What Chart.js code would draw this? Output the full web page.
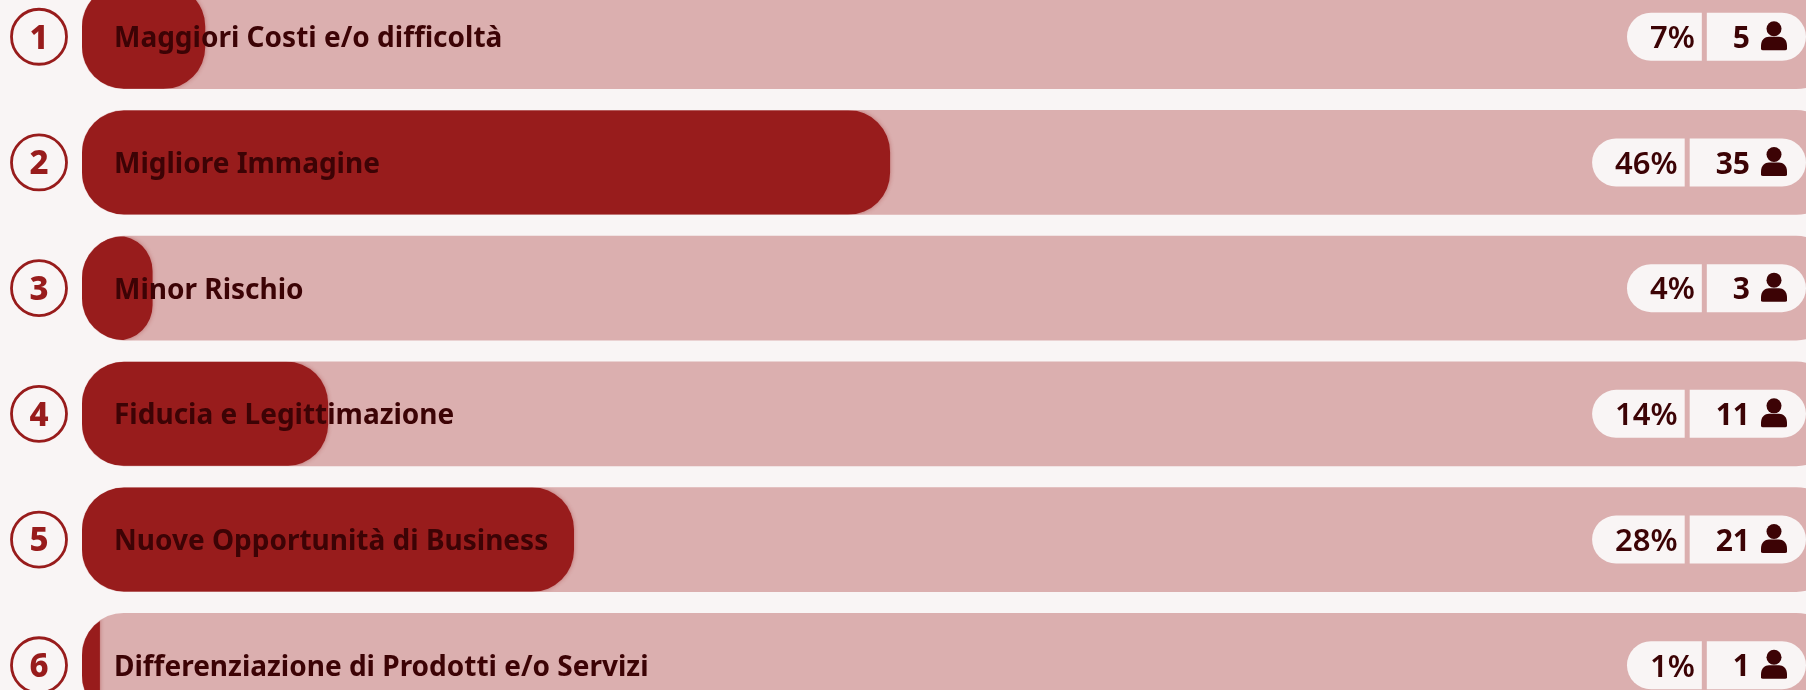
<!DOCTYPE html>
<html><head><meta charset="utf-8">
<style>html,body{margin:0;padding:0;background:#f9f5f5;overflow:hidden}canvas{display:block}</style>
<script src="https://cdn.jsdelivr.net/npm/chart.js@4"></script>
</head><body><canvas id="c" width="1806" height="690"></canvas>
<script>
const categories=["Maggiori Costi e/o difficoltà","Migliore Immagine","Minor Rischio","Fiducia e Legittimazione","Nuove Opportunità di Business","Differenziazione di Prodotti e/o Servizi"];
const percentages=[7,46,4,14,28,1];
const counts=[5,35,3,11,21,1];
const trackValues=[100,100,100,100,100,100];
const TXT='#3c0305',RED='#981c1c',PILL='#f9f5f5';
const FONT='"Noto Sans", sans-serif';
const R=42;
function rr(ctx,x,y,w,h,tl,tr,br,bl){ctx.beginPath();ctx.roundRect(x,y,w,h,[tl,tr,br,bl]);}
const overlay={id:'overlay',
 beforeDatasetDraw(chart,args){
  if(args.index!==0)return;
  const ctx=chart.ctx,tr=chart.getDatasetMeta(1).data;
  ctx.save();
  ctx.beginPath();
  tr.forEach(b=>{const p=b.getProps(['x','y','base','height']);ctx.roundRect(p.base,p.y-p.height/2,p.x-p.base,p.height,R);});
  ctx.clip();
  ctx.shadowColor='rgba(150,28,28,.45)';ctx.shadowBlur=4;
 },
 afterDatasetDraw(chart,args){if(args.index===0)chart.ctx.restore();},
 afterDraw(chart){
  const ctx=chart.ctx,ys=chart.scales.y,right=chart.width;
  ctx.save();
  ctx.textBaseline='middle';
  categories.forEach((label,i)=>{
   const y=ys.getPixelForValue(i),ty=y+2.5;
   ctx.beginPath();ctx.arc(39,y,27.5,0,Math.PI*2);ctx.lineWidth=2.8;ctx.strokeStyle=RED;ctx.stroke();
   ctx.fillStyle=RED;ctx.textAlign='center';ctx.font='800 33px '+FONT;ctx.fillText(String(i+1),39,ty);
   ctx.fillStyle=TXT;ctx.textAlign='left';ctx.font='700 28px '+FONT;ctx.fillText(label,114,ty);
   ctx.font='700 30px '+FONT;
   const cnt=String(counts[i]),cw=ctx.measureText(cnt).width,numR=1750,cl=numR-cw-26;
   ctx.fillStyle=PILL;rr(ctx,cl,y-24,right-cl,48,0,24,24,0);ctx.fill();
   ctx.fillStyle=TXT;ctx.textAlign='right';ctx.fillText(cnt,numR,ty);
   ctx.beginPath();ctx.arc(1774,y-8,7.5,0,Math.PI*2);ctx.fill();
   ctx.beginPath();ctx.moveTo(1761,y+12);ctx.lineTo(1761,y+9);ctx.bezierCurveTo(1761,y+3,1765,y,1769,y);ctx.lineTo(1779,y);ctx.bezierCurveTo(1783,y,1787,y+3,1787,y+9);ctx.lineTo(1787,y+12);ctx.quadraticCurveTo(1787,y+13.5,1785,y+13.5);ctx.lineTo(1763,y+13.5);ctx.quadraticCurveTo(1761,y+13.5,1761,y+12);ctx.fill();
   ctx.font='600 31px '+FONT;
   const pct=percentages[i]+'%',pw=ctx.measureText(pct).width,pr=cl-5,pl=pr-7-pw-23;
   ctx.fillStyle=PILL;rr(ctx,pl,y-24,pr-pl,48,24,0,0,24);ctx.fill();
   ctx.fillStyle=TXT;ctx.textAlign='right';ctx.fillText(pct,pr-7,ty);
  });
  ctx.restore();
 }};
new Chart(document.getElementById('c'),{
 type:'bar',
 data:{datasets:[
  {label:'Percentuale',data:percentages.map((v,i)=>({x:v,y:i})),backgroundColor:RED,
   borderRadius:c=>c.raw&&c.raw.x<2?0:R,borderSkipped:false,barThickness:104,grouped:false},
  {label:'Totale',data:trackValues.map((v,i)=>({x:v,y:i})),backgroundColor:'#dbafaf',
   borderRadius:R,borderSkipped:false,barThickness:104,grouped:false}
 ]},
 plugins:[overlay],
 options:{indexAxis:'y',responsive:false,animation:false,devicePixelRatio:1,
  layout:{padding:{left:82,right:0,top:0,bottom:0}},
  plugins:{legend:{display:false},tooltip:{enabled:false},title:{display:false}},
  scales:{
   x:{type:'linear',display:false,min:0,max:98.18},
   y:{type:'linear',display:false,offset:false,reverse:true,min:-0.2924,max:5.1969}
  }}
});
</script></body></html>
